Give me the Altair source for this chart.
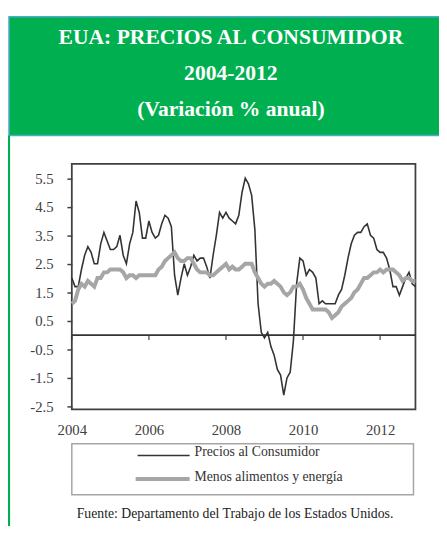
import altair as alt
import pandas as pd

# ---- data (monthly, Jan 2004 - Dec 2012, % annual change) ----
start_year = 2004
precios = [
    2.0, 1.7, 1.7, 2.3, 2.8, 3.1, 2.9, 2.5, 2.5, 3.2, 3.6, 3.3,   # 2004
    3.0, 3.0, 3.1, 3.5, 2.8, 2.5, 3.2, 3.6, 4.7, 4.3, 3.4, 3.4,   # 2005
    4.0, 3.6, 3.4, 3.5, 3.9, 4.2, 4.1, 3.8, 2.1, 1.4, 2.0, 2.5,   # 2006
    2.1, 2.4, 2.8, 2.6, 2.7, 2.7, 2.4, 2.0, 2.8, 3.5, 4.3, 4.1,   # 2007
    4.3, 4.1, 4.0, 3.9, 4.2, 5.0, 5.5, 5.3, 4.9, 3.7, 1.1, 0.1,   # 2008
    -0.1, 0.1, -0.4, -0.7, -1.2, -1.4, -2.1, -1.5, -1.3, -0.2, 1.8, 2.7,  # 2009
    2.6, 2.1, 2.3, 2.2, 2.0, 1.1, 1.2, 1.1, 1.1, 1.1, 1.1, 1.4,   # 2010
    1.6, 2.1, 2.7, 3.2, 3.5, 3.6, 3.6, 3.8, 3.9, 3.5, 3.4, 3.0,   # 2011
    2.9, 2.9, 2.7, 2.3, 1.7, 1.7, 1.4, 1.7, 2.0, 2.2, 1.8, 1.7,   # 2012
]
subyacente = [
    1.1, 1.2, 1.6, 1.8, 1.7, 1.9, 1.8, 1.7, 2.0, 2.0, 2.2, 2.2,   # 2004
    2.3, 2.3, 2.3, 2.3, 2.2, 2.0, 2.1, 2.1, 2.0, 2.1, 2.1, 2.1,   # 2005
    2.1, 2.1, 2.1, 2.3, 2.4, 2.6, 2.7, 2.8, 2.9, 2.7, 2.6, 2.6,   # 2006
    2.7, 2.7, 2.5, 2.3, 2.2, 2.2, 2.2, 2.1, 2.1, 2.2, 2.3, 2.4,   # 2007
    2.5, 2.3, 2.4, 2.3, 2.3, 2.4, 2.5, 2.5, 2.5, 2.2, 2.0, 1.8,   # 2008
    1.7, 1.8, 1.8, 1.9, 1.8, 1.7, 1.5, 1.4, 1.5, 1.7, 1.7, 1.8,   # 2009
    1.6, 1.3, 1.1, 0.9, 0.9, 0.9, 0.9, 0.9, 0.8, 0.6, 0.7, 0.8,   # 2010
    1.0, 1.1, 1.2, 1.3, 1.5, 1.6, 1.8, 2.0, 2.0, 2.1, 2.2, 2.2,   # 2011
    2.3, 2.2, 2.3, 2.3, 2.3, 2.2, 2.1, 1.9, 2.0, 2.0, 1.9, 1.9,   # 2012
]
year_ticks = [2004, 2006, 2008, 2010, 2012]
y_ticks = [-2.5, -1.5, -0.5, 0.5, 1.5, 2.5, 3.5, 4.5, 5.5]
title_lines = ["EUA: PRECIOS AL CONSUMIDOR", "2004-2012", "(Variación % anual)"]
legend_labels = ["Precios al Consumidor", "Menos alimentos  y energía"]
source_text = "Fuente:  Departamento del Trabajo de los Estados Unidos."

# ---- table ----
t = [start_year + i / 12 for i in range(len(precios))]
df = pd.DataFrame({"t": t, "precios": precios, "sub": subyacente})

FONT = "Liberation Serif"
DARK = "#333333"
GRAY = "#A6A6A6"
GREEN = "#00B050"
BLUE = "#4BACC6"
W, H = 350, 250

x_scale = alt.Scale(domain=[2004, 2012 + 11 / 12], nice=False, zero=False)
y_scale = alt.Scale(domain=[-2.6, 6.0], nice=False, zero=False)

x_axis = alt.Axis(values=year_ticks, tickCount=len(year_ticks), format="d", title=None,
                  ticks=False, domain=False, grid=False, labelFlush=False,
                  labelOverlap=False, labelPadding=14, labelFont=FONT,
                  labelFontSize=15, labelColor="#404040")
y_axis = alt.Axis(values=y_ticks, tickCount=len(y_ticks), title=None, grid=False,
                  domain=False, tickSize=5, tickWidth=1.5, tickColor="#404040",
                  labelOverlap=False, labelFlush=False,
                  labelPadding=14, labelFont=FONT, labelFontSize=15,
                  labelColor="#404040",
                  labelExpr="datum.value < 0 ? '-' + format(abs(datum.value), '.1f') : format(datum.value, '.1f')")

base = alt.Chart(df)

line_p = base.mark_line(color=DARK, strokeWidth=1.6).encode(
    x=alt.X("t:Q", scale=x_scale, axis=x_axis),
    y=alt.Y("precios:Q", scale=y_scale, axis=y_axis),
)
line_s = base.mark_line(color=GRAY, strokeWidth=4).encode(
    x=alt.X("t:Q", scale=x_scale, axis=x_axis),
    y=alt.Y("sub:Q", scale=y_scale, axis=y_axis),
)

zero_rule = alt.Chart(pd.DataFrame({"v": [0]})).mark_rule(color=DARK, strokeWidth=1.6).encode(
    y=alt.Y("v:Q", scale=y_scale, axis=y_axis)
)
zero_ticks = alt.Chart(pd.DataFrame({"yr": year_ticks, "v": [0] * len(year_ticks)})).mark_tick(
    orient="vertical", color=DARK, size=5, thickness=1.6, yOffset=2.5
).encode(x=alt.X("yr:Q", scale=x_scale, axis=x_axis),
         y=alt.Y("v:Q", scale=y_scale, axis=y_axis))

one = pd.DataFrame({"a": [0]})

# header box and green frame line
header = alt.Chart(one).mark_rect(fill=GREEN, stroke=BLUE, strokeWidth=1.5).encode(
    x=alt.value(-64), x2=alt.value(380), y=alt.value(-150), y2=alt.value(-29)
)
left_line = alt.Chart(one).mark_rule(color=GREEN, strokeWidth=2.2).encode(
    x=alt.value(-64), y=alt.value(-29), y2=alt.value(400)
)

def text_layer(txt, x, y, size, weight="normal", color=DARK, align="center"):
    return alt.Chart(one).mark_text(
        text=txt, font=FONT, fontSize=size, fontWeight=weight, color=color,
        align=align, baseline="middle"
    ).encode(x=alt.value(x), y=alt.value(y))

titles = [
    text_layer(title_lines[0], 162, -129, 22, "bold", "white"),
    text_layer(title_lines[1], 162, -92, 22, "bold", "white"),
    text_layer(title_lines[2], 162, -56, 22, "bold", "white"),
]

legend_box = alt.Chart(one).mark_rect(fill="white", fillOpacity=0, stroke=GRAY, strokeWidth=1.5).encode(
    x=alt.value(0), x2=alt.value(348), y=alt.value(285), y2=alt.value(337)
)
leg_l1 = alt.Chart(one).mark_rule(color=DARK, strokeWidth=1.6).encode(
    x=alt.value(67), x2=alt.value(120), y=alt.value(297)
)
leg_l2 = alt.Chart(one).mark_rule(color=GRAY, strokeWidth=4).encode(
    x=alt.value(65), x2=alt.value(120), y=alt.value(321)
)
leg_t1 = text_layer(legend_labels[0], 125, 293, 14, align="left")
leg_t2 = text_layer(legend_labels[1], 125, 319, 14, align="left")
src = text_layer(source_text, 5, 357, 14, align="left", color="#222222")

chart = alt.layer(
    header, left_line, *titles,
    line_p, line_s, zero_rule, zero_ticks,
    legend_box, leg_l1, leg_l2, leg_t1, leg_t2, src,
).properties(
    width=W, height=H,
    padding={"left": 65, "top": 154, "right": 24, "bottom": 114},
    autosize=alt.AutoSizeParams(type="none"),
    background="white",
).configure_view(stroke="#404040", strokeWidth=1.8)

chart.save("out.html", embed_options={"renderer": "svg", "actions": False})
